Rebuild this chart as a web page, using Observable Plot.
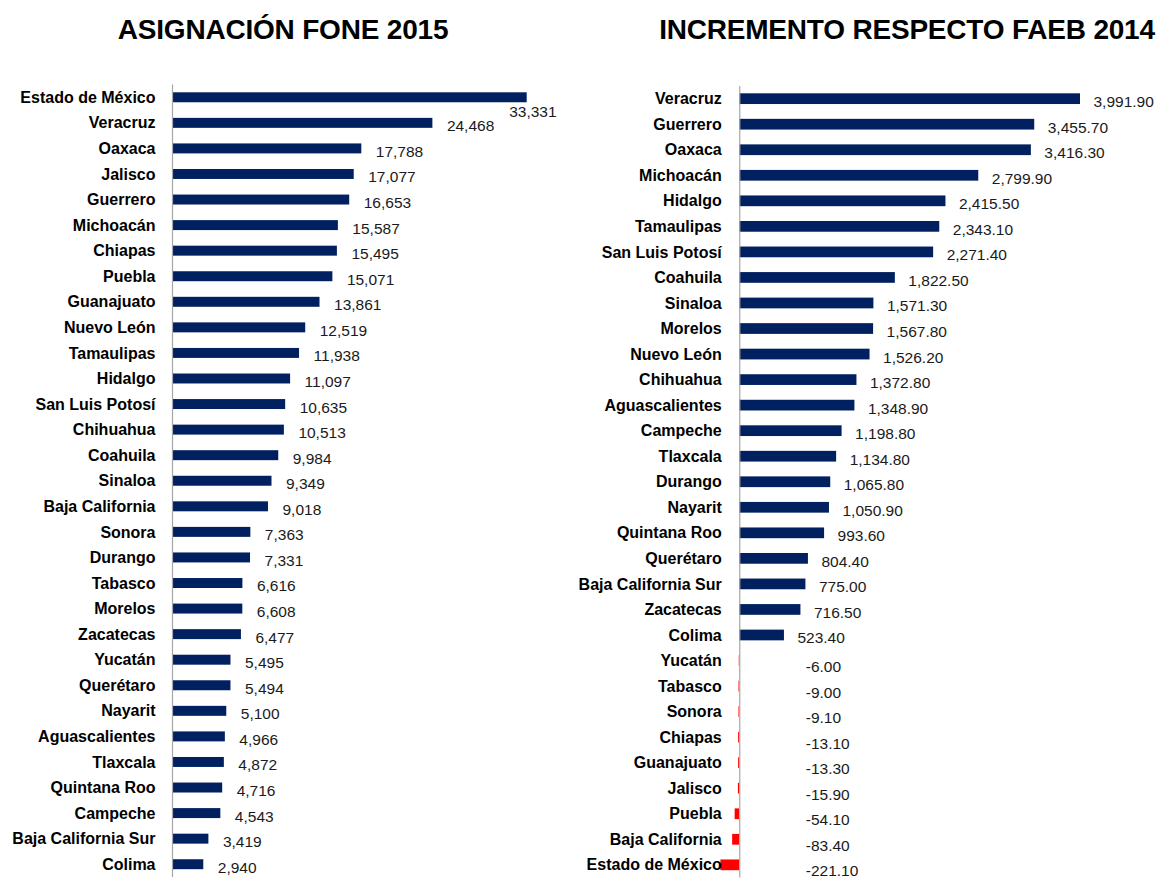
<!DOCTYPE html>
<html>
<head>
<meta charset="utf-8">
<script src="https://cdn.jsdelivr.net/npm/d3@7"></script>
<script src="https://cdn.jsdelivr.net/npm/@observablehq/plot@0.6"></script>
<style>
  html, body { margin: 0; padding: 0; background: #fff; }
  #wrap { position: relative; width: 1161px; height: 879px; overflow: hidden; font-family: "Liberation Sans", Arial, sans-serif; }
  .title { position: absolute; top: 14px; font-size: 28px; font-weight: bold; color: #000; white-space: nowrap; transform: translateX(-50%); letter-spacing: -0.2px; }
  .panel { position: absolute; top: 0; }
</style>
</head>
<body>
<div id="wrap">
  <div class="title" style="left:283px">ASIGNACIÓN FONE 2015</div>
  <div class="title" style="left:907px">INCREMENTO RESPECTO FAEB 2014</div>
  <div class="panel" id="left" style="left:0px"></div>
  <div class="panel" id="right" style="left:580px"></div>
</div>
<script>
// ---- Data: Asignación FONE 2015 (millones de pesos) ----
const foneStates = [
  "Estado de México","Veracruz","Oaxaca","Jalisco","Guerrero","Michoacán","Chiapas","Puebla",
  "Guanajuato","Nuevo León","Tamaulipas","Hidalgo","San Luis Potosí","Chihuahua","Coahuila",
  "Sinaloa","Baja California","Sonora","Durango","Tabasco","Morelos","Zacatecas","Yucatán",
  "Querétaro","Nayarit","Aguascalientes","Tlaxcala","Quintana Roo","Campeche","Baja California Sur","Colima"
];
const foneValues = [
  33331,24468,17788,17077,16653,15587,15495,15071,
  13861,12519,11938,11097,10635,10513,9984,
  9349,9018,7363,7331,6616,6608,6477,5495,
  5494,5100,4966,4872,4716,4543,3419,2940
];

// ---- Data: Incremento respecto FAEB 2014 ----
const incStates = [
  "Veracruz","Guerrero","Oaxaca","Michoacán","Hidalgo","Tamaulipas","San Luis Potosí","Coahuila",
  "Sinaloa","Morelos","Nuevo León","Chihuahua","Aguascalientes","Campeche","Tlaxcala","Durango",
  "Nayarit","Quintana Roo","Querétaro","Baja California Sur","Zacatecas","Colima","Yucatán",
  "Tabasco","Sonora","Chiapas","Guanajuato","Jalisco","Puebla","Baja California","Estado de México"
];
const incValues = [
  3991.9,3455.7,3416.3,2799.9,2415.5,2343.1,2271.4,1822.5,
  1571.3,1567.8,1526.2,1372.8,1348.9,1198.8,1134.8,1065.8,
  1050.9,993.6,804.4,775.0,716.5,523.4,-6.0,
  -9.0,-9.1,-13.1,-13.3,-15.9,-54.1,-83.4,-221.1
];

const NAVY = "#002060";
const RED = "#ff0000";
const FONT = '"Liberation Sans", Arial, sans-serif';

const fone = foneStates.map((s, i) => ({state: s, value: foneValues[i]}));
const inc = incStates.map((s, i) => ({state: s, value: incValues[i]}));

const fmt0 = d3.format(",");
const fmt2 = v => d3.format(",.2f")(v).replace("\u2212", "-");

const topFone = fone[0];

const leftPlot = Plot.plot({
  width: 580,
  height: 879,
  marginTop: 84.5,
  marginBottom: 2,
  marginLeft: 172,
  marginRight: 53.3,
  style: {fontFamily: FONT, fontSize: "16px", background: "transparent", overflow: "visible"},
  x: {domain: [0, d3.max(foneValues)], axis: null},
  y: {domain: foneStates, paddingInner: 0.61, paddingOuter: 0.305, align: 0.5, round: false, label: null},
  marks: [
    Plot.barX(fone, {x: "value", y: "state", fill: NAVY}),
    Plot.ruleX([0], {stroke: "#a6a6a6", strokeWidth: 1.2}),
    Plot.axisY({tickSize: 0, tickPadding: 17, fontWeight: "bold", fontSize: 16, fill: "#000", label: null}),
    Plot.text(fone.slice(1), {x: "value", y: "state", text: d => fmt0(d.value), textAnchor: "start", dx: 14, dy: 3, fill: "#1a1a1a", fontSize: 15.5}),
    Plot.text([topFone], {x: "value", y: "state", text: d => fmt0(d.value), textAnchor: "start", dx: -18, dy: 14, fill: "#1a1a1a", fontSize: 15.5})
  ]
});
document.getElementById("left").appendChild(leftPlot);

const rightPlot = Plot.plot({
  width: 581,
  height: 879,
  marginTop: 85.9,
  marginBottom: 1.4,
  marginLeft: 140.4,
  marginRight: 81,
  style: {fontFamily: FONT, fontSize: "16px", background: "transparent", overflow: "visible"},
  x: {domain: d3.extent(incValues), axis: null},
  y: {domain: incStates, paddingInner: 0.58, paddingOuter: 0.29, align: 0.5, round: false, label: null},
  marks: [
    Plot.barX(inc, {x: "value", y: "state", fill: d => d.value < 0 ? RED : NAVY}),
    Plot.axisY({anchor: "left", tickSize: 0, tickPadding: 18, fontWeight: "bold", fontSize: 16, fill: "#000", label: null, x: 0}),
    Plot.ruleX([0], {stroke: "#a6a6a6", strokeWidth: 1.2}),
    Plot.text(inc.filter(d => d.value >= 0), {x: "value", y: "state", text: d => fmt2(d.value), textAnchor: "start", dx: 13, dy: 3, fill: "#1a1a1a", fontSize: 15.5}),
    Plot.text(inc.filter(d => d.value < 0), {x: 0, y: "state", text: d => fmt2(d.value), textAnchor: "start", dx: 66, dy: 6, fill: "#1a1a1a", fontSize: 15.5})
  ]
});
document.getElementById("right").appendChild(rightPlot);
</script>
</body>
</html>
